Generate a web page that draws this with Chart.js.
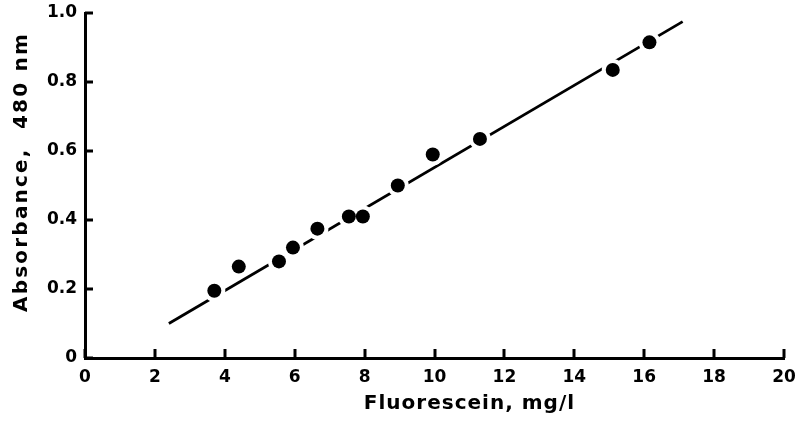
<!DOCTYPE html>
<html>
<head>
<meta charset="utf-8">
<script src="https://cdn.jsdelivr.net/npm/chart.js@4"></script>
<style>
  html, body { margin: 0; padding: 0; background: #fff; }
</style>
</head>
<body>
<canvas id="absChart" width="801" height="422"></canvas>
<script>
// calibration measurements: fluorescein (mg/l) vs absorbance at 480 nm
const concentration = [3.7, 4.4, 5.55, 5.95, 6.65, 7.55, 7.95, 8.95, 9.95, 11.3, 15.1, 16.15];
const absorbance = [0.195, 0.265, 0.28, 0.32, 0.375, 0.41, 0.41, 0.50, 0.59, 0.635, 0.835, 0.915];

// fitted straight line, start and end
const fitX = [2.4, 17.1];
const fitY = [0.10, 0.975];

const xTickLabels = ['0', '2', '4', '6', '8', '10', '12', '14', '16', '18', '20'];
const yTickLabels = ['0', '0.2', '0.4', '0.6', '0.8', '1.0'];

const points = concentration.map((c, i) => ({ x: c, y: absorbance[i] }));
const fitLine = fitX.map((c, i) => ({ x: c, y: fitY[i] }));

const tickFont = { family: '"DejaVu Sans"', size: 17, weight: 'bold' };

// short tick marks pointing into the plot from both axes
const inwardTicks = {
  id: 'inwardTicks',
  afterDraw(chart) {
    const ctx = chart.ctx;
    const area = chart.chartArea;
    const xs = chart.scales.x;
    const ys = chart.scales.y;
    ctx.save();
    ctx.fillStyle = '#000';
    for (let i = 0; i < xs.ticks.length; i++) {
      const px = xs.getPixelForTick(i);
      ctx.fillRect(Math.round(px) - 1.5, area.bottom - 9, 3, 9);
    }
    for (let i = 0; i < ys.ticks.length; i++) {
      const py = ys.getPixelForTick(i);
      ctx.fillRect(area.left, Math.round(py) - 1.5, 8, 3);
    }
    ctx.restore();
  }
};

// axis captions drawn after the chart so letter spacing can be set
const captions = {
  id: 'captions',
  afterDraw(chart) {
    const ctx = chart.ctx;
    const area = chart.chartArea;
    const xs = chart.scales.x;
    ctx.save();
    ctx.fillStyle = '#000';
    ctx.font = 'bold 20px "DejaVu Sans"';
    ctx.textAlign = 'center';
    ctx.textBaseline = 'alphabetic';
    ctx.letterSpacing = '1px';
    ctx.fillText('Fluorescein, mg/l', xs.getPixelForValue(11), area.bottom + 51);
    ctx.letterSpacing = '2.2px';
    ctx.translate(27, 172);
    ctx.rotate(-Math.PI / 2);
    ctx.fillText('Absorbance,  480 nm', 0, 0);
    ctx.restore();
  }
};

new Chart(document.getElementById('absChart'), {
  type: 'scatter',
  data: {
    datasets: [
      {
        // regression line, sits underneath everything
        data: fitLine,
        showLine: true,
        borderColor: '#000',
        borderWidth: 2.8,
        pointRadius: 0,
        order: 3
      },
      {
        // white ring round each dot so the line breaks at the markers
        data: points,
        pointRadius: 11,
        pointBackgroundColor: '#fff',
        pointBorderWidth: 0,
        order: 2
      },
      {
        data: points,
        pointRadius: 7,
        pointBackgroundColor: '#000',
        pointBorderWidth: 0,
        order: 1
      }
    ]
  },
  options: {
    responsive: false,
    animation: false,
    devicePixelRatio: 1,
    layout: { padding: { top: 13, right: 17, left: 0, bottom: 0 } },
    plugins: { legend: { display: false }, tooltip: { enabled: false } },
    scales: {
      x: {
        type: 'linear',
        min: 0,
        max: 20,
        border: { display: true, width: 3, color: '#000' },
        grid: { display: false, drawTicks: false },
        ticks: {
          stepSize: 2,
          padding: 9,
          color: '#000',
          font: tickFont,
          maxRotation: 0,
          callback: (v, i) => xTickLabels[i]
        },
        afterFit: s => { s.height = 64; s.paddingLeft = 0; s.paddingRight = 0; }
      },
      y: {
        type: 'linear',
        min: 0,
        max: 1,
        border: { display: true, width: 3, color: '#000' },
        grid: { display: false, drawTicks: false },
        ticks: {
          stepSize: 0.2,
          padding: 8,
          color: '#000',
          font: tickFont,
          callback: (v, i) => yTickLabels[i]
        },
        afterFit: s => { s.width = 85; s.paddingTop = 0; s.paddingBottom = 0; }
      }
    }
  },
  plugins: [inwardTicks, captions]
});
</script>
</body>
</html>
